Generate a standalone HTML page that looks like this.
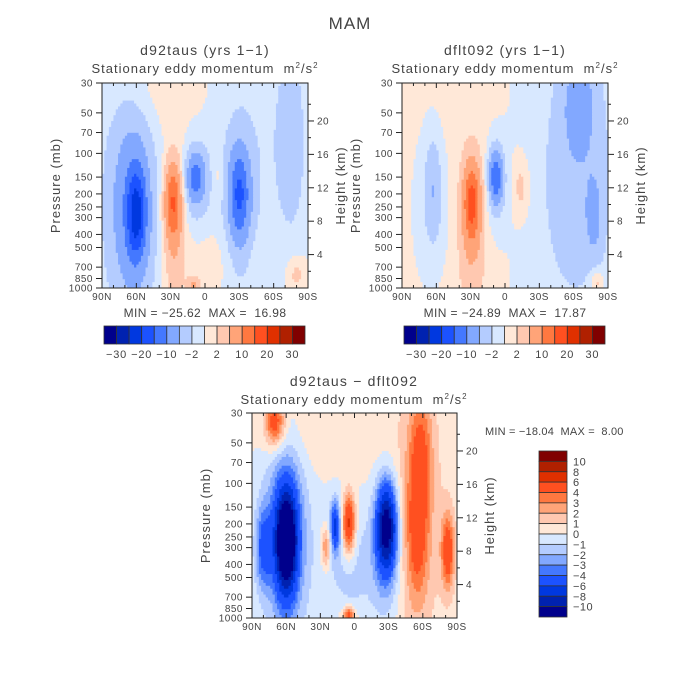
<!DOCTYPE html>
<html><head><meta charset="utf-8">
<style>
html,body{margin:0;padding:0;background:#fff;}
svg{display:block;font-family:"Liberation Sans",sans-serif;}
svg text{white-space:pre;}
</style></head>
<body>
<svg id="fig" width="700" height="700" viewBox="0 0 700 700">
<rect width="700" height="700" fill="#fff"/>
<text x="350" y="29" font-size="17" text-anchor="middle" fill="#444" letter-spacing="1">MAM</text>
</svg>
<script>
// ---- data ----
const latTicks=["90N","60N","30N","0","30S","60S","90S"];
const presTicks=[30,50,70,100,150,200,250,300,400,500,700,850,1000];
const heightTicks=[4,8,12,16,20];
const colors=["#00008c","#0022b0","#0038e0","#1c52ff","#4478ff","#82a8ff","#b4ccff","#d8e8ff","#ffe8d8","#ffc8b0","#ffa478","#ff7840","#ff5020","#e03000","#b02000","#800000"];
const levelsA=[-30,-25,-20,-15,-10,-5,-2,0,2,5,10,15,20,25,30];
const levelLabelsA=["-30","-20","-10","-2","2","10","20","30"];
const levelsC=[-10,-8,-6,-4,-3,-2,-1,0,1,2,3,4,6,8,10];
// blob features per panel: lat, pressure(mb), amplitude, lat width(deg), log-p width
const p1Lat=[60,65,28,27,8,8,-30,-30,-75,-40,40,-80,10,-20,-12];
const p1Pres=[280,250,230,400,150,170,200,300,80,100,35,800,950,600,150];
const p1Amp=[-17,-8,13,4,-10,-4,-12,-4,-4,-1.5,1.5,3,5,1.5,2];
const p1LatW=[6,15,5,7,5,9,6,10,8,30,30,5,4,25,4];
const p1PW=[0.55,1.3,0.45,1.0,0.25,0.5,0.5,1.0,1.0,1.5,0.5,0.2,0.1,0.5,0.3];
const p2Lat=[63,63,29,29,8,8,-14,-65,-65,-78,40,-50,-80];
const p2Pres=[180,250,230,400,150,170,180,40,150,300,200,200,900];
const p2Amp=[-4,-2,14,4,-12,-3,3,-5,-3,-4,1,-1.2,4];
const p2LatW=[5,12,5,8,4,7,5,10,20,5,40,35,4];
const p2PW=[0.6,1.0,0.45,0.9,0.3,0.55,0.35,0.6,1.3,0.5,3,3,0.15];
const p3Lat=[60,60,80,70,5,17,25,-28,-28,-58,-55,-82,-50,30,0,5];
const p3Pres=[270,250,300,35,200,210,300,210,300,60,250,320,200,40,400,950];
const p3Amp=[-13,-5,-4,5,7,-6,3.5,-10,-3,3.5,3.5,5,1.5,1,-1.5,5];
const p3LatW=[6,12,5,6,4,3,3,6,9,7,7,4,25,30,20,4];
const p3PW=[0.55,1.1,0.5,0.3,0.35,0.3,0.25,0.5,0.9,0.8,0.8,0.45,2,0.5,0.8,0.1];

const NS="http://www.w3.org/2000/svg";
const svg=document.getElementById('fig');
function el(tag,attrs,parent){const e=document.createElementNS(NS,tag);for(const k in attrs)e.setAttribute(k,attrs[k]);(parent||svg).appendChild(e);return e;}
function txt(x,y,s,size,anchor,parent,ls){const t=el('text',{x:x,y:y,'font-size':size,'text-anchor':anchor||'middle',fill:'#444','letter-spacing':ls===undefined?1:ls},parent);t.textContent=s;return t;}

function panel(name,L,T,W,H,lat,pres,amp,latw,pw,levels){
  const g=el('g',{});
  
  
  const lp0=Math.log(30),lp1=Math.log(1000);
  const xOf=la=>L+(90-la)/180*W;
  const yOf=p=>T+(Math.log(p)-lp0)/(lp1-lp0)*H;
  const NX=90,NY=70;
  function field(la,p){let v=0;const lp=Math.log(p);
    for(let i=0;i<lat.length;i++){const a=(la-lat[i])/latw[i],b=(lp-Math.log(pres[i]))/pw[i];v+=amp[i]*Math.exp(-0.5*(a*a+b*b));}
    return v;}
  function cls(v){let k=0;while(k<levels.length&&v>=levels[k])k++;return k;}
  const plot=el('g',{},g);
  
  
  for(let j=0;j<NY;j++){
    const y0=T+j*H/NY,y1=T+(j+1)*H/NY;
    const p=Math.exp(lp0+(j+0.5)/NY*(lp1-lp0));
    let start=0,cur=cls(field(90-0.5*180/NX,p));
    for(let i=1;i<=NX;i++){
      const c=i<NX?cls(field(90-(i+0.5)*180/NX,p)):-1;
      if(c!==cur){
        const r=el('rect',{x:(L+start*W/NX).toFixed(2),y:y0.toFixed(2),width:((i-start)*W/NX+0.4).toFixed(2),height:(y1-y0+0.4).toFixed(2),fill:colors[cur]},plot);
        
        
        start=i;cur=c;}
    }
  }
  const fr=el('rect',{x:L,y:T,width:W,height:H,fill:'none',stroke:'#222','stroke-width':1},g);
  
  
  for(let d=90;d>=-90;d-=10){const x=xOf(d);const len=(d%30===0)?5:3;
    el('line',{x1:x,y1:T+H,x2:x,y2:T+H-len,stroke:'#222'},g);el('line',{x1:x,y1:T,x2:x,y2:T+len,stroke:'#222'},g);}
  latTicks.forEach((s,i)=>{const t=txt(L+i*W/6,T+H+12,s,10,'middle',g,0.5);
    
    });
  presTicks.forEach(p=>{const y=yOf(p);el('line',{x1:L,y1:y,x2:L-6,y2:y,stroke:'#222'},g);
    const t=txt(L-9,y+3.5,String(p),10,'end',g,0.5);
    
    });
  for(let z=2;z<=22;z+=2){const p=1000*Math.exp(-z/7);const y=yOf(p);if(y<T)continue;
    el('line',{x1:L+W,y1:y,x2:L+W+(z%4===0?6:3),y2:y,stroke:'#222'},g);}
  heightTicks.forEach(z=>{const y=yOf(1000*Math.exp(-z/7));
    const t=txt(L+W+9,y+3.5,String(z),10,'start',g,0.5);
    
    });
  const yl=txt(0,0,'Pressure (mb)',13,'middle',g);yl.setAttribute('transform',`translate(${L-42},${T+H/2}) rotate(-90)`);
  
  
  const hl=txt(0,0,'Height (km)',13,'middle',g);hl.setAttribute('transform',`translate(${L+W+37},${T+H/2}) rotate(-90)`);
  
  
  return g;
}
function hbar(L,T,W,H,name){
  const g=el('g',{});
  
  
  const bw=W/16;
  colors.forEach((c,i)=>{const r=el('rect',{x:L+i*bw,y:T,width:bw,height:H,fill:c,stroke:'#333','stroke-width':0.8},g);
    
    });
  levelLabelsA.forEach((s,i)=>{const t=txt(L+(2*i+1)*bw,T+H+14,s.replace('-','−'),11,'middle',g,0.8);
    
    });
}
function titles(cx,y1,y2,t1,name){
  const a=txt(cx,y1,t1,14,'middle',undefined,1.2);
  const b=el('text',{x:cx,y:y2,'font-size':13,'text-anchor':'middle',fill:'#444','letter-spacing':1});
  b.innerHTML='Stationary eddy momentum  m<tspan dy="-5" font-size="8">2</tspan><tspan dy="5">/s</tspan><tspan dy="-5" font-size="8">2</tspan>';
  
  
}
panel('panel-d92taus',102,83,206,205,p1Lat,p1Pres,p1Amp,p1LatW,p1PW,levelsA);
panel('panel-dflt092',402,83,206,205,p2Lat,p2Pres,p2Amp,p2LatW,p2PW,levelsA);
panel('panel-difference',252,413,205,205,p3Lat,p3Pres,p3Amp,p3LatW,p3PW,levelsC);
titles(205,55,73,'d92taus (yrs 1−1)','panel-d92taus');
titles(505,55,73,'dflt092 (yrs 1−1)','panel-dflt092');
titles(354,386,404,'d92taus − dflt092','panel-difference');
let m=txt(205,317,'MIN = −25.62  MAX =  16.98',12,'middle',undefined,0.4);
m=txt(505,317,'MIN = −24.89  MAX =  17.87',12,'middle',undefined,0.4);
m=txt(485,435,'MIN = −18.04  MAX =  8.00',11,'start',undefined,0.2);
hbar(104,326,201,18,'colorbar-d92taus');
hbar(404,326,201,18,'colorbar-dflt092');
(function(){const g=el('g',{});
  
  
  const L=539,T=451,W=28,H=166,bh=H/16;
  for(let i=0;i<16;i++){const r=el('rect',{x:L,y:T+i*bh,width:W,height:bh,fill:colors[15-i],stroke:'#333','stroke-width':0.8},g);
    
    }
  for(let i=0;i<15;i++){const v=levelsC[14-i];const t=txt(L+W+6,T+(i+1)*bh+4,String(v).replace('-','−'),11,'start',g,0.5);
    
    }
})();
</script>
</body></html>
